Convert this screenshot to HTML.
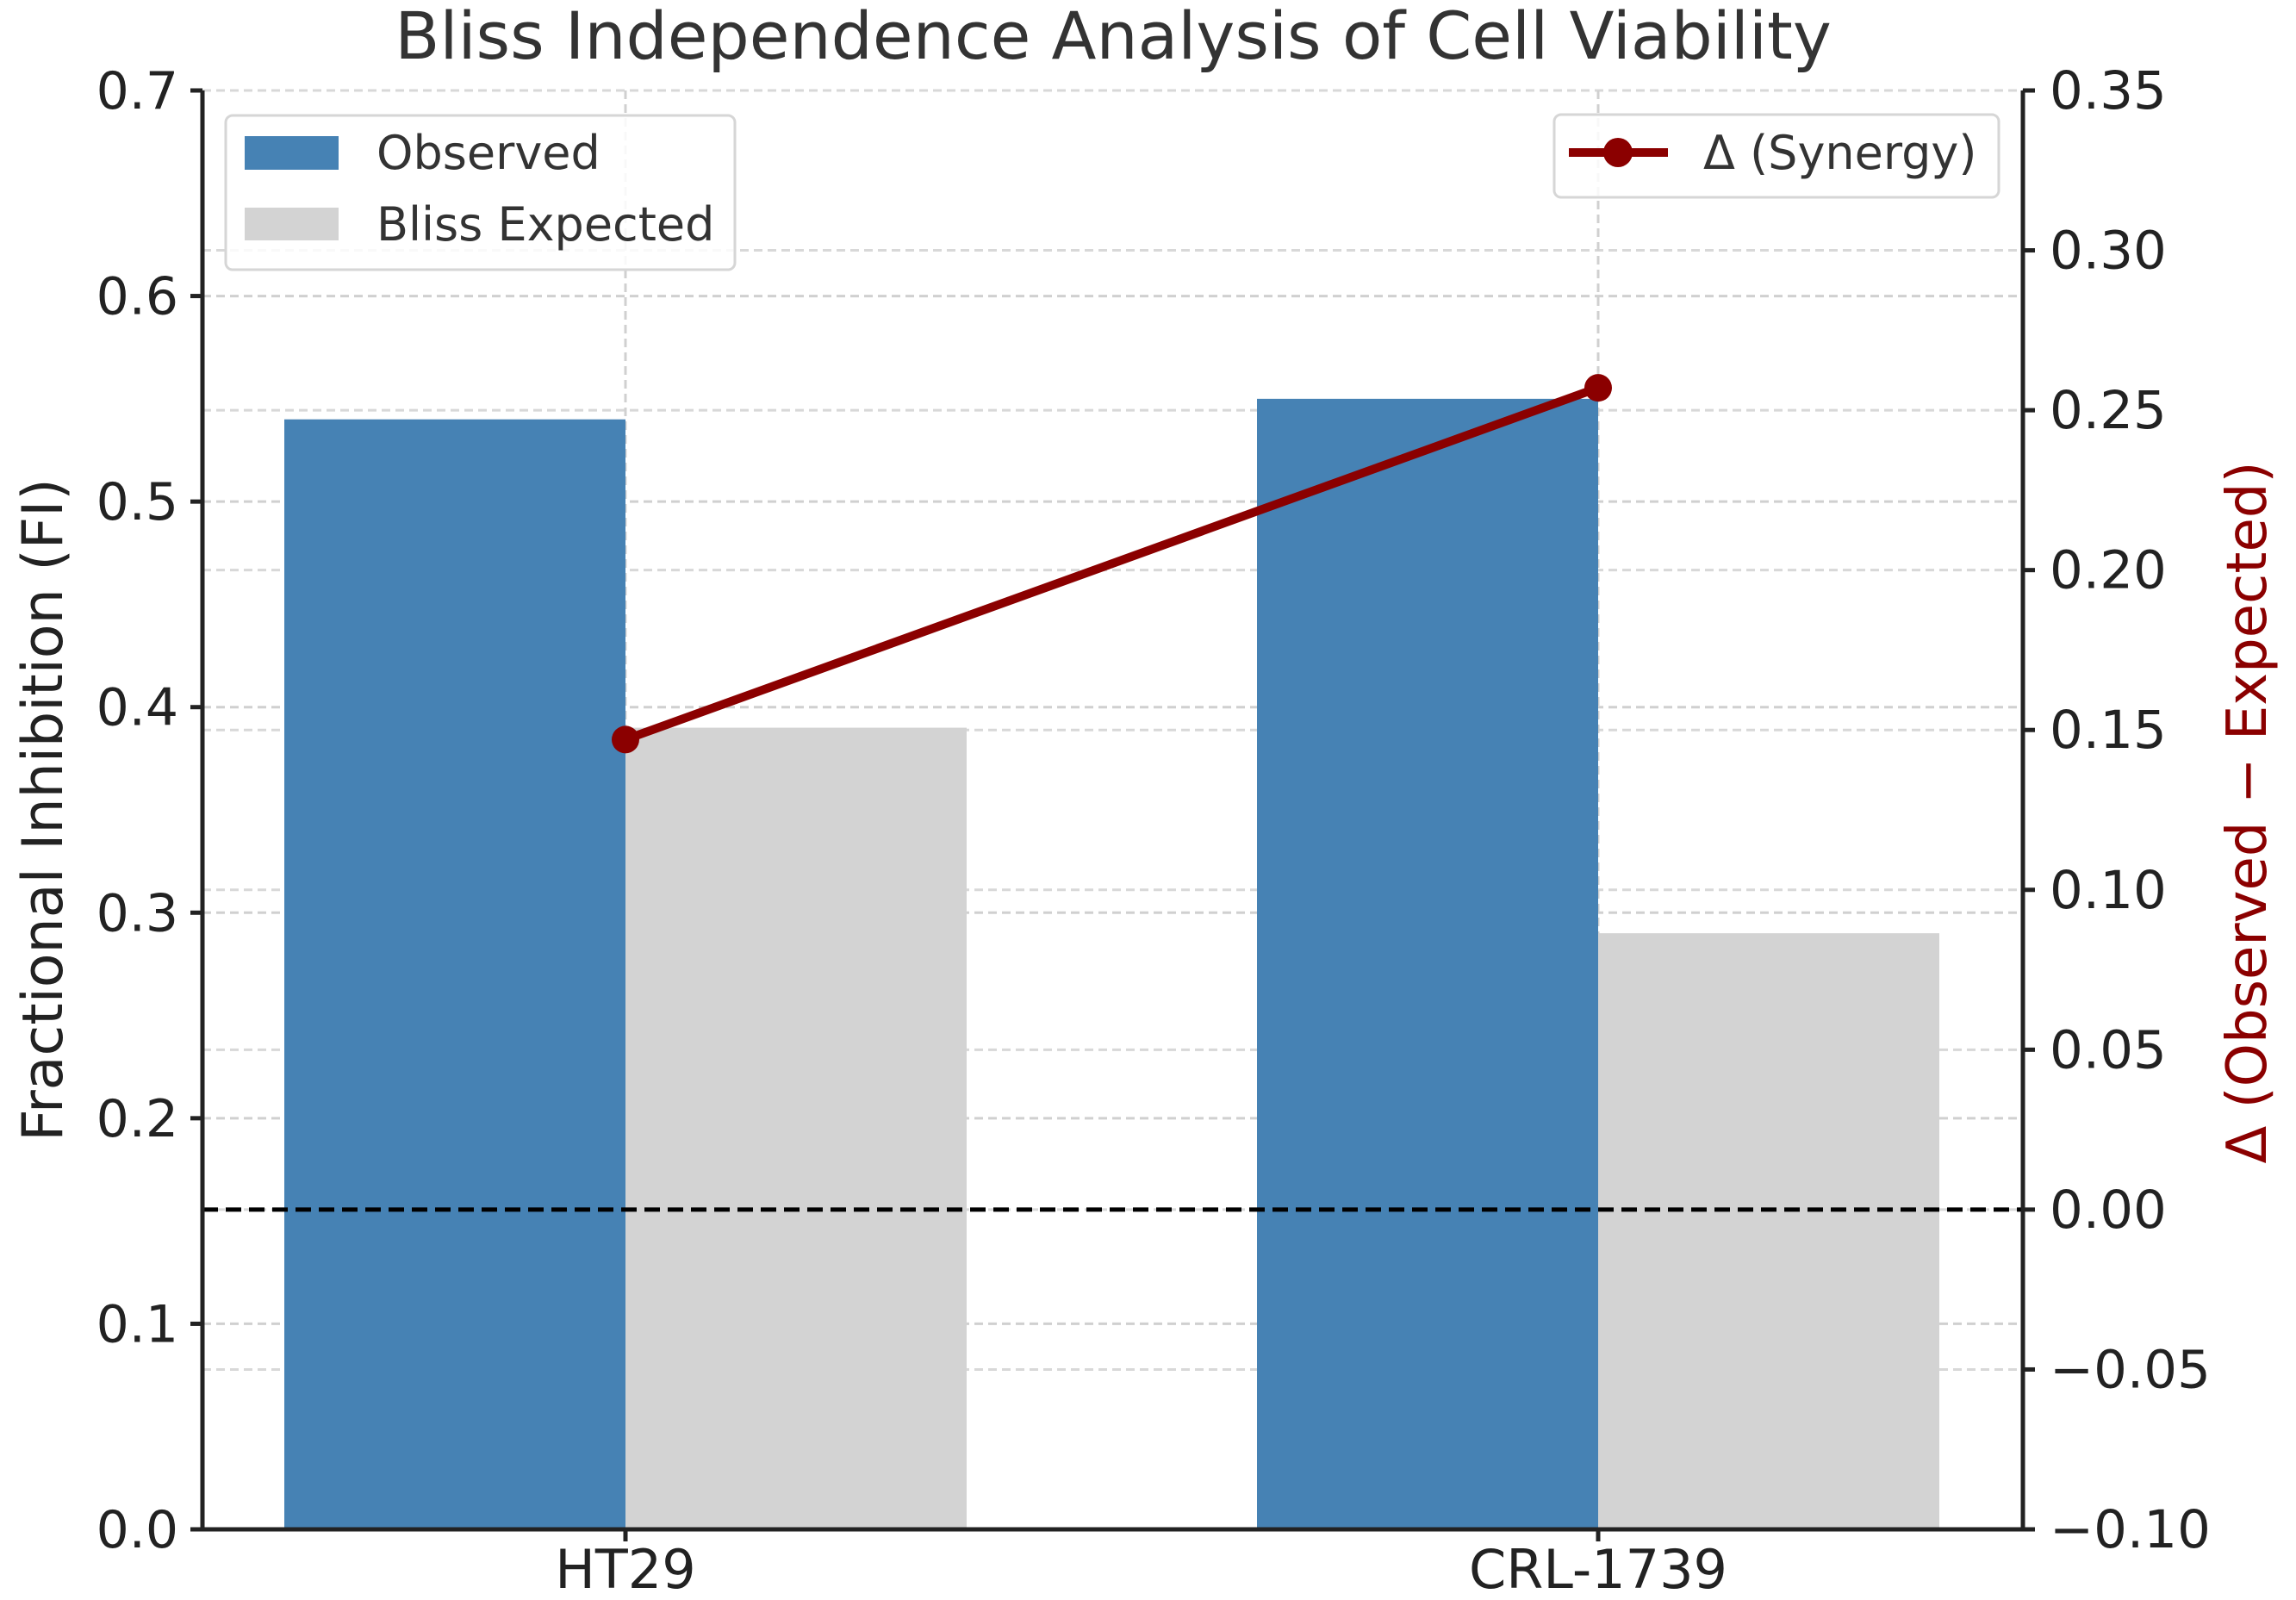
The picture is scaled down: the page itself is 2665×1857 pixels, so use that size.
<!DOCTYPE html>
<html><head><meta charset="utf-8"><style>
html,body{margin:0;padding:0;background:#fff;}
svg{display:block;font-family:"DejaVu Sans","Liberation Sans",sans-serif;}
</style></head><body>
<svg id="chart" width="2665" height="1857" viewBox="0 0 2665 1857" xmlns="http://www.w3.org/2000/svg">
<text x="1292" y="68" font-size="76" text-anchor="middle" fill="#333">Bliss Independence Analysis of Cell Viability</text>
<g id="grid"></g><g id="bars"></g><g id="axes"></g><g id="line"></g>
<text transform="translate(72,940) rotate(-90)" font-size="65" text-anchor="middle" fill="#222">Fractional Inhibition (FI)</text>
<text transform="translate(2630,943) rotate(-90)" font-size="64" text-anchor="middle" fill="#8B0000">Δ (Observed − Expected)</text>
<g>
<rect x="262" y="134" width="591" height="179" rx="8" fill="#fff" fill-opacity="0.85" stroke="#d6d6d6" stroke-width="3"/>
<rect x="284" y="158" width="109" height="39" fill="#4682B4"/>
<text x="437" y="196" font-size="54" fill="#333">Observed</text>
<rect x="284" y="241" width="109" height="38" fill="#D3D3D3"/>
<text x="437" y="279" font-size="54" fill="#333">Bliss Expected</text>
</g>
<g>
<rect x="1804" y="133" width="516" height="96" rx="8" fill="#fff" fill-opacity="0.85" stroke="#d6d6d6" stroke-width="3"/>
<line x1="1821" y1="177" x2="1936" y2="177" stroke="#8B0000" stroke-width="10"/>
<circle cx="1878" cy="177" r="17" fill="#8B0000"/>
<text x="1977" y="196" font-size="54" fill="#333">Δ (Synergy)</text>
</g>
</svg>
<script>
const categories = ["HT29", "CRL-1739"];
const observed = [0.54, 0.55];
const expected = [0.39, 0.29];
const delta = [0.147, 0.257];
const leftTicks = [0.0, 0.1, 0.2, 0.3, 0.4, 0.5, 0.6, 0.7];
const rightTicks = [-0.10, -0.05, 0.00, 0.05, 0.10, 0.15, 0.20, 0.25, 0.30, 0.35];

const NS = "http://www.w3.org/2000/svg";
const L = 235, R = 2348, T = 105, B = 1775;
const xC = i => 726 + i * 1129;
const bw = 396;
const yL = v => B - (v - 0) / 0.7 * (B - T);
const yR = v => B - (v + 0.10) / 0.45 * (B - T);
function mk(tag, attrs, parent) {
  const e = document.createElementNS(NS, tag);
  for (const k in attrs) e.setAttribute(k, attrs[k]);
  document.getElementById(parent).appendChild(e);
  return e;
}
leftTicks.forEach(v => {
  const g = mk("line", {x1: L, x2: R, y1: yL(v), y2: yL(v), stroke: "#d0d0d0", "stroke-width": 3, "stroke-dasharray": "10,6"}, "grid");
  
  
});
rightTicks.forEach(v => {
  const g = mk("line", {x1: L, x2: R, y1: yR(v), y2: yR(v), stroke: "#d8d8d8", "stroke-width": 3, "stroke-dasharray": "10,6"}, "grid");
  
  
});
categories.forEach((c, i) => {
  const g = mk("line", {x1: xC(i), x2: xC(i), y1: T, y2: B, stroke: "#d0d0d0", "stroke-width": 3, "stroke-dasharray": "10,6"}, "grid");
  
  
});
categories.forEach((c, i) => {
  const b1 = mk("rect", {x: xC(i) - bw, y: yL(observed[i]), width: bw, height: yL(0) - yL(observed[i]), fill: "#4682B4"}, "bars");
  
  
  const b2 = mk("rect", {x: xC(i), y: yL(expected[i]), width: bw, height: yL(0) - yL(expected[i]), fill: "#D3D3D3"}, "bars");
  
  
});
const z = mk("line", {x1: L, x2: R, y1: yR(0), y2: yR(0), stroke: "#000", "stroke-width": 5, "stroke-dasharray": "18,9"}, "axes");


[[L, T, L, B], [L, B, R, B], [R, T, R, B]].forEach(s => {
  const e = mk("line", {x1: s[0], y1: s[1], x2: s[2], y2: s[3], stroke: "#222", "stroke-width": 5}, "axes");
  
  
});
leftTicks.forEach(v => {
  mk("line", {x1: L - 14, x2: L, y1: yL(v), y2: yL(v), stroke: "#222", "stroke-width": 5}, "axes");
  const t = mk("text", {x: 207, y: yL(v) + 21, "font-size": 60, "text-anchor": "end", fill: "#222"}, "axes");
  t.textContent = v.toFixed(1);
  
  
});
rightTicks.forEach(v => {
  mk("line", {x1: R, x2: R + 14, y1: yR(v), y2: yR(v), stroke: "#222", "stroke-width": 5}, "axes");
  const t = mk("text", {x: 2379, y: yR(v) + 21, "font-size": 61, fill: "#222"}, "axes");
  t.textContent = (v < 0 ? "−" : "") + Math.abs(v).toFixed(2);
  
  
});
categories.forEach((c, i) => {
  mk("line", {x1: xC(i), x2: xC(i), y1: B, y2: B + 14, stroke: "#222", "stroke-width": 5}, "axes");
  const t = mk("text", {x: xC(i), y: 1843, "font-size": 62, "text-anchor": "middle", fill: "#222"}, "axes");
  t.textContent = c;
  
  
});
const pl = mk("polyline", {points: delta.map((d, i) => xC(i) + "," + yR(d)).join(" "), fill: "none", stroke: "#8B0000", "stroke-width": 10}, "line");


delta.forEach((d, i) => {
  const c = mk("circle", {cx: xC(i), cy: yR(d), r: 16, fill: "#8B0000"}, "line");
  
  
});
</script>
</body></html>
